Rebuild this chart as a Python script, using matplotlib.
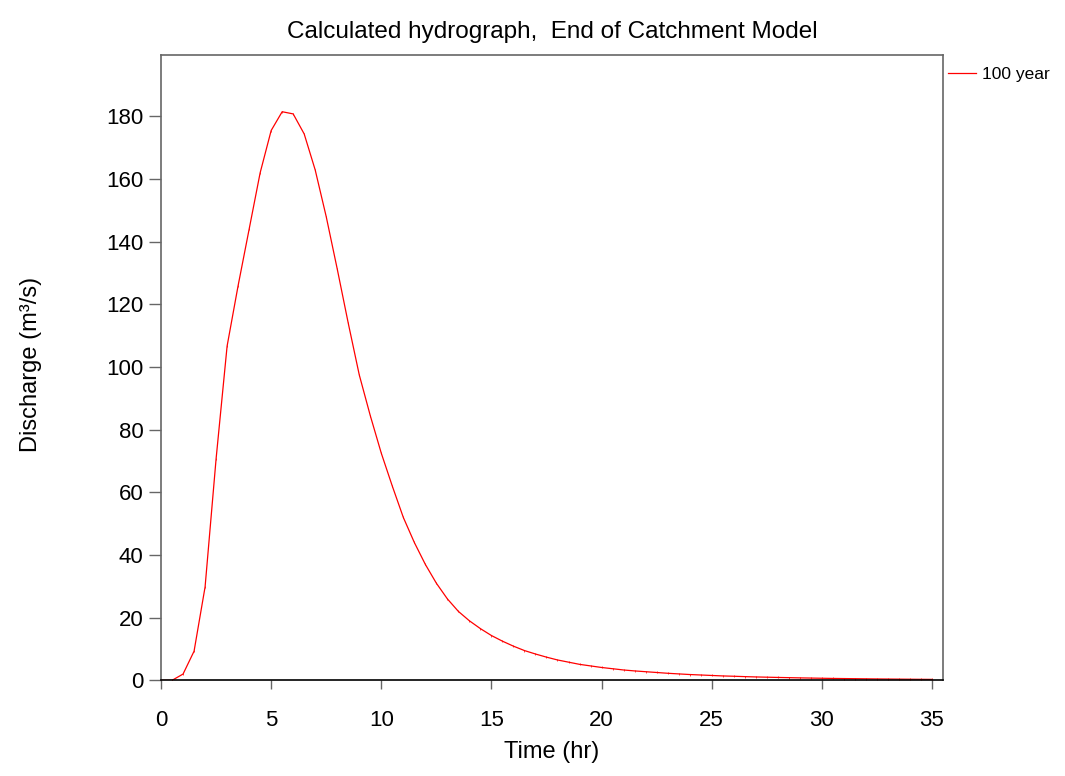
import matplotlib
matplotlib.use("Agg")
import matplotlib.pyplot as plt

plt.rcParams["font.family"] = ["Liberation Sans", "DejaVu Sans"]

# hydrograph ordinates every 0.5 hr
time_hr = [i * 0.5 for i in range(71)]
discharge = [
    0.0, 0.0, 2.0, 9.3, 29.8, 70.7, 106.7, 126.0, 144.0, 162.0,
    175.5, 181.5, 180.8, 174.4, 162.9, 148.0, 131.3, 114.0, 97.5, 84.5,
    72.5, 62.0, 52.0, 44.0, 37.0, 31.0, 26.0, 22.0, 19.0, 16.5,
    14.3, 12.5, 10.9, 9.5, 8.4, 7.4, 6.5, 5.8, 5.1, 4.6,
    4.1, 3.7, 3.3, 3.0, 2.75, 2.5, 2.25, 2.05, 1.85, 1.7,
    1.55, 1.4, 1.3, 1.18, 1.08, 1.0, 0.92, 0.85, 0.78, 0.72,
    0.66, 0.6, 0.56, 0.52, 0.48, 0.44, 0.41, 0.38, 0.35, 0.32, 0.3,
]
series_label = "100 year"
x_ticks = [0, 5, 10, 15, 20, 25, 30, 35]
y_ticks = [0, 20, 40, 60, 80, 100, 120, 140, 160, 180]

fig = plt.figure(figsize=(10.65, 7.76), dpi=100)
ax = fig.add_axes([0.1512, 0.1233, 0.7342, 0.8058])

ax.plot(time_hr, discharge, color="red", lw=0.9, label=series_label)
# small point ticks at every ordinate
ax.plot(time_hr, discharge, ls="none", color="red", marker="|", ms=2, mew=0.5)

ax.set_xlim(0, 35.5)
ax.set_ylim(0, 199.6)
ax.set_xticks(x_ticks)
ax.set_yticks(y_ticks)
ax.tick_params(direction="out", width=1, color="#666666", labelsize=16)
ax.tick_params(axis="x", length=6.5, pad=15)
ax.tick_params(axis="y", length=9, pad=3.5)

for side in ("left", "top", "right"):
    ax.spines[side].set_color("#666666")
    ax.spines[side].set_linewidth(1.2)
ax.spines["bottom"].set_color("black")
ax.spines["bottom"].set_linewidth(1.2)

ax.set_xlabel("Time (hr)", fontsize=17)
ax.set_ylabel("Discharge (m³/s)", fontsize=17)
ax.xaxis.set_label_coords(0.5, -0.097)
ax.yaxis.set_label_coords(-0.152, 0.505)
ax.set_title("Calculated hydrograph,  End of Catchment Model", fontsize=17.5, pad=12)

ax.legend(loc="center left", bbox_to_anchor=(0.8905, 0.9046), bbox_transform=fig.transFigure,
          frameon=False, fontsize=12.5, handlelength=1.6, handletextpad=0.35,
          borderaxespad=0, borderpad=0)

fig.savefig("out.png", dpi=100)
